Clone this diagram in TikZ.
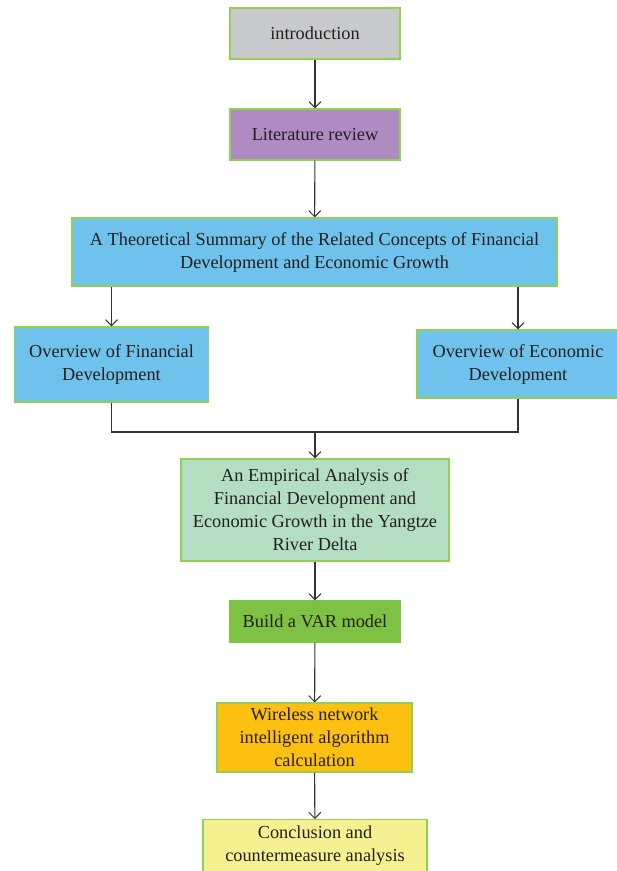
\documentclass[tikz,border=0pt]{standalone}
\usepackage{fontspec}
\setmainfont{Liberation Serif}
\usetikzlibrary{arrows.meta}
\definecolor{bordergreen}{HTML}{92D050}
\definecolor{cintro}{HTML}{C8C9CB}
\definecolor{clit}{HTML}{B08BC2}
\definecolor{cblue}{HTML}{6FC2EC}
\definecolor{cemp}{HTML}{B4DEC2}
\definecolor{cvar}{HTML}{7DC243}
\definecolor{cwire}{HTML}{FDC010}
\definecolor{cconc}{HTML}{F5F190}
\definecolor{txt}{HTML}{231F20}
\definecolor{lin}{HTML}{333333}
\tikzset{
  boxtext/.style={align=center, inner sep=0pt, text=txt,
    font=\fontsize{18.3}{23}\selectfont},
  box/.style={boxtext, draw=bordergreen, line width=1.3pt, rectangle},
  conn/.style={draw=lin, line width=1.1pt},
  arr/.style={conn, -{Straight Barb[length=6pt,width=12pt,line width=1pt]}}
}
\begin{document}
\begin{tikzpicture}[x=1pt,y=-1pt]
\useasboundingbox (0,0) rectangle (617,871);
\clip (0,0) rectangle (617,871);
\node[box, fill=cintro, minimum width=170pt, minimum height=51pt] (intro) at (315,33.5) {introduction};
\node[box, fill=clit, minimum width=170pt, minimum height=51pt] (lit) at (315,134.5) {Literature review};
\node[box, fill=cblue, minimum width=485pt, minimum height=68pt] (theo) at (314.5,252) {A Theoretical Summary of the Related Concepts of Financial\\Development and Economic Growth};
\node[box, fill=cblue, minimum width=194pt, minimum height=75pt] (fin) at (111.5,364.5) {Overview of Financial\\Development};
\node[box, fill=cblue, minimum width=202pt, minimum height=68pt] (eco) at (518,364) {Overview of Economic\\Development};
\node[box, fill=cemp, minimum width=268pt, minimum height=102pt] (emp) at (315,510) {An Empirical Analysis of\\Financial Development and\\Economic Growth in the Yangtze\\River Delta};
\node[box, fill=cvar, draw=cvar, minimum width=170pt, minimum height=41pt] (var) at (315,621.5) {Build a VAR model};
\node[box, fill=cwire, minimum width=195pt, minimum height=69pt] (wire) at (314.5,737.5) {Wireless network\\intelligent algorithm\\calculation};
\node[box, fill=cconc, minimum width=224pt, minimum height=70pt, anchor=north] (conc) at (315,819) {};
\node[boxtext] (conctext) at (315,845.5) {Conclusion and\\countermeasure analysis};
\coordinate (j) at (315,432);
\draw[arr] (intro) -- (lit);
\draw[arr] (lit) -- (theo);
\draw[arr] (theo.south -| fin.north) -- (fin.north);
\draw[arr] (theo.south -| eco.north) -- (eco.north);
\draw[conn] (fin.south) |- (j) -| (eco.south);
\draw[arr] (j) -- (emp.north);
\draw[arr] (emp) -- (var);
\draw[arr] (var) -- (wire);
\draw[arr] (wire) -- (conc);
\end{tikzpicture}
\end{document}
